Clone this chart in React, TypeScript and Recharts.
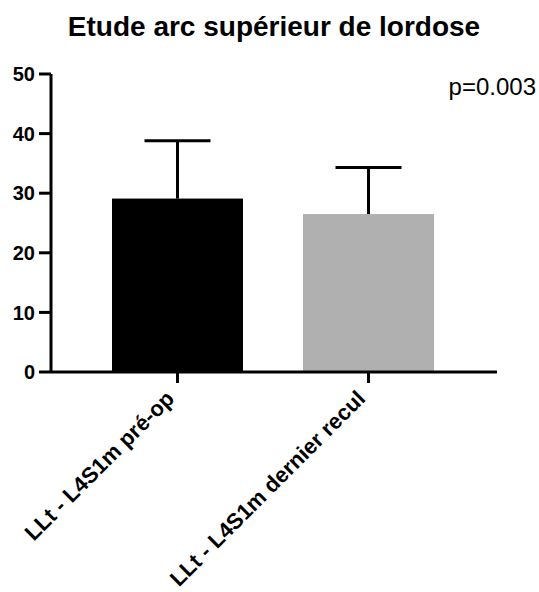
import React from "react";
import { BarChart, Bar, XAxis, YAxis } from "recharts";

const categories = ["LLt - L4S1m pré-op", "LLt - L4S1m dernier recul"];
const means = [29.1, 26.5];
const sds = [9.7, 7.8];
const colors = ["#000000", "#b0b0b0"];
const yTicks = [0, 10, 20, 30, 40, 50];
const title = "Etude arc supérieur de lordose";
const pText = "p=0.003";

const data = categories.map((name, i) => ({ name, mean: means[i], sd: sds[i], color: colors[i] }));

const FONT = "'Liberation Sans', Arial, Helvetica, sans-serif";

// bar + one-sided (upper) SD whisker, scaled from the bar's own px/unit
const BarWithError = (props: any) => {
  const { x, y, width, height, payload } = props;
  if (!payload || !height) return null;
  const pxPerUnit = height / payload.mean;
  const top = y - payload.sd * pxPerUnit;
  const cx = x + width / 2;
  return (
    <g>
      <rect x={x} y={y} width={width} height={height} fill={payload.color} />
      <line x1={cx} y1={y} x2={cx} y2={top} stroke="#000" strokeWidth={3} />
      <line x1={cx - 33} y1={top} x2={cx + 33} y2={top} stroke="#000" strokeWidth={3} />
    </g>
  );
};

const XTick = ({ x, y, payload }: any) => (
  <g transform={`translate(${x - 2},${y + 17})`}>
    <text x={0} y={0} textAnchor="end" transform="rotate(-45)"
      fontFamily={FONT} fontWeight="bold" fontSize={22} fill="#000">
      {payload.value}
    </text>
  </g>
);

export default function App() {
  return (
    <div style={{ position: "relative", width: 539, height: 592, background: "#fff" }}>
      <style>{"body{margin:0}"}</style>
      <BarChart width={539} height={592} data={data}
        margin={{ top: 74, right: 42, left: 0, bottom: 0 }}>
        <XAxis dataKey="name" interval={0} height={220} padding={{ left: 31, right: 33 }}
          axisLine={{ stroke: "#000", strokeWidth: 3 }}
          tickLine={{ stroke: "#000", strokeWidth: 3 }} tickSize={11} tickMargin={0}
          tick={<XTick />} />
        <YAxis domain={[0, 50]} ticks={yTicks} width={51} interval={0}
          axisLine={{ stroke: "#000", strokeWidth: 3 }}
          tickLine={{ stroke: "#000", strokeWidth: 3 }} tickSize={12} tickMargin={4}
          tick={{ fontFamily: FONT, fontWeight: "bold", fontSize: 20, fill: "#000" }} />
        <Bar dataKey="mean" barSize={131} isAnimationActive={false} shape={<BarWithError />} />
      </BarChart>
      <svg width={539} height={592} style={{ position: "absolute", left: 0, top: 0, pointerEvents: "none" }}>
        <text x={274} y={36} textAnchor="middle" fontFamily={FONT} fontWeight="bold" fontSize={28} fill="#000">
          {title}
        </text>
        <text x={536} y={95} textAnchor="end" fontFamily={FONT} fontSize={24} fill="#000">
          {pText}
        </text>
      </svg>
    </div>
  );
}
